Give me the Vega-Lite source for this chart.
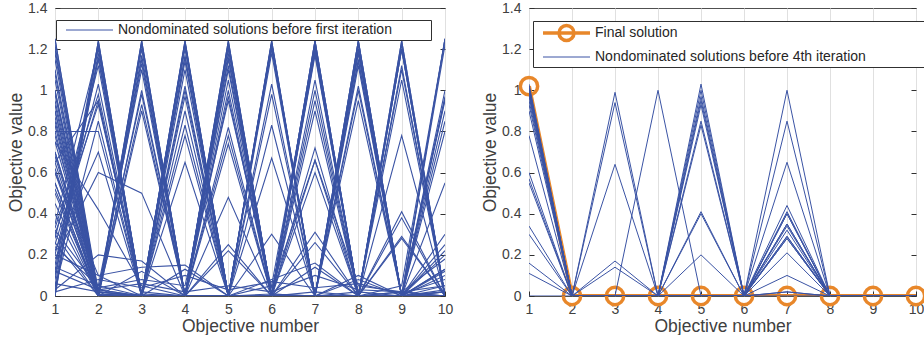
{
"$schema": "https://vega.github.io/schema/vega-lite/v6.json",
"padding": {"left": 7, "top": 0, "right": 0, "bottom": 0},
"config": {
  "font": "Liberation Sans",
  "view": {"stroke": "#505050", "strokeWidth": 1},
  "axis": {"labelFont": "Liberation Sans", "labelFontSize": 14, "labelColor": "#404040", "titleFont": "Liberation Sans", "titleFontSize": 17.5, "titleFontWeight": "normal", "titleColor": "#404040", "tickColor": "#303030", "domain": false},
  "legend": {"labelFont": "Liberation Sans", "labelFontSize": 14, "labelColor": "#262626", "labelLimit": 1000, "fillColor": "white", "strokeColor": "#303030", "padding": 3, "symbolType": "stroke", "symbolSize": 2209, "symbolStrokeWidth": 1, "symbolOffset": 6.5, "labelOffset": 4.5, "rowPadding": 0}
},
"datasets": {
"L": [
{"s":1,"o":1,"v":1.25},{"s":1,"o":2,"v":0.02},{"s":1,"o":3,"v":0},{"s":1,"o":4,"v":1.24},{"s":1,"o":5,"v":0},{"s":1,"o":6,"v":0.01},{"s":1,"o":7,"v":0},{"s":1,"o":8,"v":1.2},{"s":1,"o":9,"v":0},{"s":1,"o":10,"v":0.03},
{"s":2,"o":1,"v":1.2},{"s":2,"o":2,"v":0},{"s":2,"o":3,"v":1.23},{"s":2,"o":4,"v":0},{"s":2,"o":5,"v":0},{"s":2,"o":6,"v":1.24},{"s":2,"o":7,"v":0},{"s":2,"o":8,"v":0},{"s":2,"o":9,"v":0.02},{"s":2,"o":10,"v":0},
{"s":3,"o":1,"v":1.15},{"s":3,"o":2,"v":0},{"s":3,"o":3,"v":0.01},{"s":3,"o":4,"v":0},{"s":3,"o":5,"v":1.24},{"s":3,"o":6,"v":0},{"s":3,"o":7,"v":0.02},{"s":3,"o":8,"v":0},{"s":3,"o":9,"v":1.24},{"s":3,"o":10,"v":0},
{"s":4,"o":1,"v":1.1},{"s":4,"o":2,"v":0.01},{"s":4,"o":3,"v":0},{"s":4,"o":4,"v":0},{"s":4,"o":5,"v":0},{"s":4,"o":6,"v":0},{"s":4,"o":7,"v":1.24},{"s":4,"o":8,"v":0},{"s":4,"o":9,"v":0},{"s":4,"o":10,"v":1.25},
{"s":5,"o":1,"v":1.05},{"s":5,"o":2,"v":0},{"s":5,"o":3,"v":1.2},{"s":5,"o":4,"v":0},{"s":5,"o":5,"v":1.22},{"s":5,"o":6,"v":0},{"s":5,"o":7,"v":0},{"s":5,"o":8,"v":0.02},{"s":5,"o":9,"v":0},{"s":5,"o":10,"v":0},
{"s":6,"o":1,"v":1},{"s":6,"o":2,"v":0.03},{"s":6,"o":3,"v":0},{"s":6,"o":4,"v":1.22},{"s":6,"o":5,"v":0},{"s":6,"o":6,"v":0},{"s":6,"o":7,"v":1.22},{"s":6,"o":8,"v":0},{"s":6,"o":9,"v":0},{"s":6,"o":10,"v":0.02},
{"s":7,"o":1,"v":0.98},{"s":7,"o":2,"v":0},{"s":7,"o":3,"v":0},{"s":7,"o":4,"v":0},{"s":7,"o":5,"v":1.18},{"s":7,"o":6,"v":0},{"s":7,"o":7,"v":0},{"s":7,"o":8,"v":1.24},{"s":7,"o":9,"v":0},{"s":7,"o":10,"v":0},
{"s":8,"o":1,"v":0.95},{"s":8,"o":2,"v":0.02},{"s":8,"o":3,"v":1.15},{"s":8,"o":4,"v":0},{"s":8,"o":5,"v":0},{"s":8,"o":6,"v":1.21},{"s":8,"o":7,"v":0},{"s":8,"o":8,"v":0},{"s":8,"o":9,"v":1.2},{"s":8,"o":10,"v":0},
{"s":9,"o":1,"v":0.9},{"s":9,"o":2,"v":0},{"s":9,"o":3,"v":0},{"s":9,"o":4,"v":1.14},{"s":9,"o":5,"v":0},{"s":9,"o":6,"v":0},{"s":9,"o":7,"v":1.19},{"s":9,"o":8,"v":0},{"s":9,"o":9,"v":0},{"s":9,"o":10,"v":1},
{"s":10,"o":1,"v":0.87},{"s":10,"o":2,"v":0},{"s":10,"o":3,"v":0},{"s":10,"o":4,"v":0},{"s":10,"o":5,"v":1.15},{"s":10,"o":6,"v":0.01},{"s":10,"o":7,"v":0},{"s":10,"o":8,"v":1.2},{"s":10,"o":9,"v":0},{"s":10,"o":10,"v":0},
{"s":11,"o":1,"v":0.85},{"s":11,"o":2,"v":0.01},{"s":11,"o":3,"v":1.13},{"s":11,"o":4,"v":0},{"s":11,"o":5,"v":0},{"s":11,"o":6,"v":0},{"s":11,"o":7,"v":1.17},{"s":11,"o":8,"v":0},{"s":11,"o":9,"v":0.02},{"s":11,"o":10,"v":0},
{"s":12,"o":1,"v":0.8},{"s":12,"o":2,"v":0},{"s":12,"o":3,"v":0},{"s":12,"o":4,"v":1.1},{"s":12,"o":5,"v":0},{"s":12,"o":6,"v":1.03},{"s":12,"o":7,"v":0},{"s":12,"o":8,"v":0},{"s":12,"o":9,"v":1.12},{"s":12,"o":10,"v":0},
{"s":13,"o":1,"v":0.75},{"s":13,"o":2,"v":0.02},{"s":13,"o":3,"v":0},{"s":13,"o":4,"v":0},{"s":13,"o":5,"v":1.12},{"s":13,"o":6,"v":0},{"s":13,"o":7,"v":0},{"s":13,"o":8,"v":1.15},{"s":13,"o":9,"v":0},{"s":13,"o":10,"v":0.95},
{"s":14,"o":1,"v":0.7},{"s":14,"o":2,"v":0},{"s":14,"o":3,"v":1},{"s":14,"o":4,"v":0},{"s":14,"o":5,"v":0},{"s":14,"o":6,"v":0.98},{"s":14,"o":7,"v":0},{"s":14,"o":8,"v":0},{"s":14,"o":9,"v":0},{"s":14,"o":10,"v":0.9},
{"s":15,"o":1,"v":0.65},{"s":15,"o":2,"v":0},{"s":15,"o":3,"v":0},{"s":15,"o":4,"v":1},{"s":15,"o":5,"v":0},{"s":15,"o":6,"v":0},{"s":15,"o":7,"v":1.05},{"s":15,"o":8,"v":0},{"s":15,"o":9,"v":1.05},{"s":15,"o":10,"v":0},
{"s":16,"o":1,"v":0.6},{"s":16,"o":2,"v":0.01},{"s":16,"o":3,"v":0},{"s":16,"o":4,"v":0},{"s":16,"o":5,"v":1},{"s":16,"o":6,"v":0},{"s":16,"o":7,"v":0},{"s":16,"o":8,"v":1.12},{"s":16,"o":9,"v":0},{"s":16,"o":10,"v":0},
{"s":17,"o":1,"v":0.55},{"s":17,"o":2,"v":0},{"s":17,"o":3,"v":0.93},{"s":17,"o":4,"v":0},{"s":17,"o":5,"v":0},{"s":17,"o":6,"v":0.83},{"s":17,"o":7,"v":0},{"s":17,"o":8,"v":0},{"s":17,"o":9,"v":0},{"s":17,"o":10,"v":0.8},
{"s":18,"o":1,"v":0.5},{"s":18,"o":2,"v":0},{"s":18,"o":3,"v":0},{"s":18,"o":4,"v":0.97},{"s":18,"o":5,"v":0},{"s":18,"o":6,"v":0},{"s":18,"o":7,"v":1},{"s":18,"o":8,"v":0},{"s":18,"o":9,"v":0.78},{"s":18,"o":10,"v":0},
{"s":19,"o":1,"v":0.45},{"s":19,"o":2,"v":0},{"s":19,"o":3,"v":0.9},{"s":19,"o":4,"v":0},{"s":19,"o":5,"v":0.97},{"s":19,"o":6,"v":0},{"s":19,"o":7,"v":0},{"s":19,"o":8,"v":1.02},{"s":19,"o":9,"v":0},{"s":19,"o":10,"v":0},
{"s":20,"o":1,"v":0.4},{"s":20,"o":2,"v":0},{"s":20,"o":3,"v":0},{"s":20,"o":4,"v":0.83},{"s":20,"o":5,"v":0},{"s":20,"o":6,"v":0},{"s":20,"o":7,"v":0.95},{"s":20,"o":8,"v":0},{"s":20,"o":9,"v":0},{"s":20,"o":10,"v":0.55},
{"s":21,"o":1,"v":0},{"s":21,"o":2,"v":1.24},{"s":21,"o":3,"v":0},{"s":21,"o":4,"v":1.24},{"s":21,"o":5,"v":0},{"s":21,"o":6,"v":0},{"s":21,"o":7,"v":0.9},{"s":21,"o":8,"v":0},{"s":21,"o":9,"v":0},{"s":21,"o":10,"v":0.25},
{"s":22,"o":1,"v":0.02},{"s":22,"o":2,"v":1.22},{"s":22,"o":3,"v":0},{"s":22,"o":4,"v":0},{"s":22,"o":5,"v":1.24},{"s":22,"o":6,"v":0},{"s":22,"o":7,"v":0},{"s":22,"o":8,"v":1},{"s":22,"o":9,"v":0},{"s":22,"o":10,"v":0},
{"s":23,"o":1,"v":0.05},{"s":23,"o":2,"v":1.18},{"s":23,"o":3,"v":0},{"s":23,"o":4,"v":0},{"s":23,"o":5,"v":0},{"s":23,"o":6,"v":1.24},{"s":23,"o":7,"v":0},{"s":23,"o":8,"v":0},{"s":23,"o":9,"v":0.41},{"s":23,"o":10,"v":0},
{"s":24,"o":1,"v":0.1},{"s":24,"o":2,"v":1.15},{"s":24,"o":3,"v":0},{"s":24,"o":4,"v":0},{"s":24,"o":5,"v":0.82},{"s":24,"o":6,"v":0},{"s":24,"o":7,"v":0},{"s":24,"o":8,"v":0},{"s":24,"o":9,"v":0},{"s":24,"o":10,"v":1.25},
{"s":25,"o":1,"v":0.2},{"s":25,"o":2,"v":1.03},{"s":25,"o":3,"v":0},{"s":25,"o":4,"v":0},{"s":25,"o":5,"v":0},{"s":25,"o":6,"v":0.67},{"s":25,"o":7,"v":0},{"s":25,"o":8,"v":0},{"s":25,"o":9,"v":0.38},{"s":25,"o":10,"v":0},
{"s":26,"o":1,"v":0.25},{"s":26,"o":2,"v":0.95},{"s":26,"o":3,"v":0},{"s":26,"o":4,"v":0.78},{"s":26,"o":5,"v":0},{"s":26,"o":6,"v":0},{"s":26,"o":7,"v":0.72},{"s":26,"o":8,"v":0},{"s":26,"o":9,"v":0},{"s":26,"o":10,"v":0.22},
{"s":27,"o":1,"v":0.3},{"s":27,"o":2,"v":0.93},{"s":27,"o":3,"v":0.02},{"s":27,"o":4,"v":0},{"s":27,"o":5,"v":0.78},{"s":27,"o":6,"v":0},{"s":27,"o":7,"v":0},{"s":27,"o":8,"v":0},{"s":27,"o":9,"v":0.29},{"s":27,"o":10,"v":0},
{"s":28,"o":1,"v":0.8},{"s":28,"o":2,"v":0.8},{"s":28,"o":3,"v":0},{"s":28,"o":4,"v":0},{"s":28,"o":5,"v":0},{"s":28,"o":6,"v":0},{"s":28,"o":7,"v":0.66},{"s":28,"o":8,"v":0},{"s":28,"o":9,"v":0},{"s":28,"o":10,"v":0.2},
{"s":29,"o":1,"v":0.65},{"s":29,"o":2,"v":0.95},{"s":29,"o":3,"v":0},{"s":29,"o":4,"v":0.65},{"s":29,"o":5,"v":0},{"s":29,"o":6,"v":0},{"s":29,"o":7,"v":0},{"s":29,"o":8,"v":0},{"s":29,"o":9,"v":0.28},{"s":29,"o":10,"v":0},
{"s":30,"o":1,"v":0.22},{"s":30,"o":2,"v":0.7},{"s":30,"o":3,"v":0},{"s":30,"o":4,"v":0},{"s":30,"o":5,"v":0.74},{"s":30,"o":6,"v":0},{"s":30,"o":7,"v":0.6},{"s":30,"o":8,"v":0},{"s":30,"o":9,"v":0},{"s":30,"o":10,"v":0.13},
{"s":31,"o":1,"v":0.18},{"s":31,"o":2,"v":0.6},{"s":31,"o":3,"v":0.5},{"s":31,"o":4,"v":0},{"s":31,"o":5,"v":0},{"s":31,"o":6,"v":0.3},{"s":31,"o":7,"v":0},{"s":31,"o":8,"v":0},{"s":31,"o":9,"v":0},{"s":31,"o":10,"v":0.12},
{"s":32,"o":1,"v":0.75},{"s":32,"o":2,"v":0.42},{"s":32,"o":3,"v":0.05},{"s":32,"o":4,"v":0},{"s":32,"o":5,"v":0.48},{"s":32,"o":6,"v":0},{"s":32,"o":7,"v":0.31},{"s":32,"o":8,"v":0},{"s":32,"o":9,"v":0},{"s":32,"o":10,"v":0},
{"s":33,"o":1,"v":0.03},{"s":33,"o":2,"v":0.2},{"s":33,"o":3,"v":0.17},{"s":33,"o":4,"v":0},{"s":33,"o":5,"v":0},{"s":33,"o":6,"v":0},{"s":33,"o":7,"v":0},{"s":33,"o":8,"v":0.1},{"s":33,"o":9,"v":0},{"s":33,"o":10,"v":0},
{"s":34,"o":1,"v":0.6},{"s":34,"o":2,"v":0.1},{"s":34,"o":3,"v":0.14},{"s":34,"o":4,"v":0.15},{"s":34,"o":5,"v":0},{"s":34,"o":6,"v":0},{"s":34,"o":7,"v":0.26},{"s":34,"o":8,"v":0},{"s":34,"o":9,"v":0},{"s":34,"o":10,"v":0.02},
{"s":35,"o":1,"v":0.26},{"s":35,"o":2,"v":0},{"s":35,"o":3,"v":0.12},{"s":35,"o":4,"v":0},{"s":35,"o":5,"v":0.25},{"s":35,"o":6,"v":0},{"s":35,"o":7,"v":0},{"s":35,"o":8,"v":0.08},{"s":35,"o":9,"v":0},{"s":35,"o":10,"v":0.13},
{"s":36,"o":1,"v":0.24},{"s":36,"o":2,"v":0.05},{"s":36,"o":3,"v":0},{"s":36,"o":4,"v":0.13},{"s":36,"o":5,"v":0},{"s":36,"o":6,"v":0.08},{"s":36,"o":7,"v":0.16},{"s":36,"o":8,"v":0},{"s":36,"o":9,"v":0},{"s":36,"o":10,"v":0},
{"s":37,"o":1,"v":0.3},{"s":37,"o":2,"v":0},{"s":37,"o":3,"v":0},{"s":37,"o":4,"v":0},{"s":37,"o":5,"v":0.22},{"s":37,"o":6,"v":0},{"s":37,"o":7,"v":0.14},{"s":37,"o":8,"v":0},{"s":37,"o":9,"v":0},{"s":37,"o":10,"v":0.05},
{"s":38,"o":1,"v":1.25},{"s":38,"o":2,"v":0},{"s":38,"o":3,"v":0},{"s":38,"o":4,"v":0},{"s":38,"o":5,"v":0},{"s":38,"o":6,"v":0},{"s":38,"o":7,"v":0},{"s":38,"o":8,"v":0},{"s":38,"o":9,"v":0},{"s":38,"o":10,"v":0.1},
{"s":39,"o":1,"v":1},{"s":39,"o":2,"v":0},{"s":39,"o":3,"v":0},{"s":39,"o":4,"v":0},{"s":39,"o":5,"v":0},{"s":39,"o":6,"v":0},{"s":39,"o":7,"v":0},{"s":39,"o":8,"v":0},{"s":39,"o":9,"v":0},{"s":39,"o":10,"v":0},
{"s":40,"o":1,"v":0},{"s":40,"o":2,"v":1.24},{"s":40,"o":3,"v":0},{"s":40,"o":4,"v":0},{"s":40,"o":5,"v":0},{"s":40,"o":6,"v":0},{"s":40,"o":7,"v":0},{"s":40,"o":8,"v":0},{"s":40,"o":9,"v":0},{"s":40,"o":10,"v":0},
{"s":41,"o":1,"v":0.7},{"s":41,"o":2,"v":0.02},{"s":41,"o":3,"v":0},{"s":41,"o":4,"v":0},{"s":41,"o":5,"v":0},{"s":41,"o":6,"v":0},{"s":41,"o":7,"v":0},{"s":41,"o":8,"v":1.24},{"s":41,"o":9,"v":0},{"s":41,"o":10,"v":1.22},
{"s":42,"o":1,"v":0.9},{"s":42,"o":2,"v":0},{"s":42,"o":3,"v":0},{"s":42,"o":4,"v":0},{"s":42,"o":5,"v":0},{"s":42,"o":6,"v":1.22},{"s":42,"o":7,"v":0},{"s":42,"o":8,"v":0},{"s":42,"o":9,"v":1.24},{"s":42,"o":10,"v":0},
{"s":43,"o":1,"v":0.55},{"s":43,"o":2,"v":0},{"s":43,"o":3,"v":1.24},{"s":43,"o":4,"v":0},{"s":43,"o":5,"v":0},{"s":43,"o":6,"v":0},{"s":43,"o":7,"v":1.24},{"s":43,"o":8,"v":0},{"s":43,"o":9,"v":0},{"s":43,"o":10,"v":0.96},
{"s":44,"o":1,"v":0.35},{"s":44,"o":2,"v":1.2},{"s":44,"o":3,"v":0},{"s":44,"o":4,"v":1.2},{"s":44,"o":5,"v":0},{"s":44,"o":6,"v":0},{"s":44,"o":7,"v":0},{"s":44,"o":8,"v":1.24},{"s":44,"o":9,"v":0},{"s":44,"o":10,"v":0},
{"s":45,"o":1,"v":0.15},{"s":45,"o":2,"v":1.16},{"s":45,"o":3,"v":0},{"s":45,"o":4,"v":0},{"s":45,"o":5,"v":1.2},{"s":45,"o":6,"v":0},{"s":45,"o":7,"v":1.24},{"s":45,"o":8,"v":0},{"s":45,"o":9,"v":0},{"s":45,"o":10,"v":0},
{"s":46,"o":1,"v":1.22},{"s":46,"o":2,"v":0},{"s":46,"o":3,"v":0},{"s":46,"o":4,"v":1.23},{"s":46,"o":5,"v":0},{"s":46,"o":6,"v":0},{"s":46,"o":7,"v":0},{"s":46,"o":8,"v":0},{"s":46,"o":9,"v":1.22},{"s":46,"o":10,"v":0},
{"s":47,"o":1,"v":1.18},{"s":47,"o":2,"v":0.01},{"s":47,"o":3,"v":1.24},{"s":47,"o":4,"v":0},{"s":47,"o":5,"v":0},{"s":47,"o":6,"v":0},{"s":47,"o":7,"v":1.2},{"s":47,"o":8,"v":0},{"s":47,"o":9,"v":0},{"s":47,"o":10,"v":0.02},
{"s":48,"o":1,"v":1.08},{"s":48,"o":2,"v":0},{"s":48,"o":3,"v":0},{"s":48,"o":4,"v":0},{"s":48,"o":5,"v":1.23},{"s":48,"o":6,"v":0},{"s":48,"o":7,"v":0},{"s":48,"o":8,"v":0},{"s":48,"o":9,"v":0},{"s":48,"o":10,"v":0.97},
{"s":49,"o":1,"v":0.93},{"s":49,"o":2,"v":0},{"s":49,"o":3,"v":1.22},{"s":49,"o":4,"v":0},{"s":49,"o":5,"v":0},{"s":49,"o":6,"v":1.23},{"s":49,"o":7,"v":0},{"s":49,"o":8,"v":0},{"s":49,"o":9,"v":0},{"s":49,"o":10,"v":0},
{"s":50,"o":1,"v":0.83},{"s":50,"o":2,"v":0},{"s":50,"o":3,"v":0},{"s":50,"o":4,"v":1.23},{"s":50,"o":5,"v":0},{"s":50,"o":6,"v":0},{"s":50,"o":7,"v":0},{"s":50,"o":8,"v":1.22},{"s":50,"o":9,"v":0},{"s":50,"o":10,"v":0},
{"s":51,"o":1,"v":0.78},{"s":51,"o":2,"v":0.03},{"s":51,"o":3,"v":0},{"s":51,"o":4,"v":0},{"s":51,"o":5,"v":0},{"s":51,"o":6,"v":1.2},{"s":51,"o":7,"v":0},{"s":51,"o":8,"v":0},{"s":51,"o":9,"v":1.2},{"s":51,"o":10,"v":0},
{"s":52,"o":1,"v":0.68},{"s":52,"o":2,"v":0},{"s":52,"o":3,"v":1.17},{"s":52,"o":4,"v":0},{"s":52,"o":5,"v":0},{"s":52,"o":6,"v":0},{"s":52,"o":7,"v":1.2},{"s":52,"o":8,"v":0},{"s":52,"o":9,"v":0},{"s":52,"o":10,"v":0.85},
{"s":53,"o":1,"v":0.62},{"s":53,"o":2,"v":0},{"s":53,"o":3,"v":0},{"s":53,"o":4,"v":0},{"s":53,"o":5,"v":1.16},{"s":53,"o":6,"v":0},{"s":53,"o":7,"v":0},{"s":53,"o":8,"v":1.18},{"s":53,"o":9,"v":0},{"s":53,"o":10,"v":0},
{"s":54,"o":1,"v":0.52},{"s":54,"o":2,"v":0},{"s":54,"o":3,"v":0},{"s":54,"o":4,"v":1.17},{"s":54,"o":5,"v":0},{"s":54,"o":6,"v":0},{"s":54,"o":7,"v":1.22},{"s":54,"o":8,"v":0},{"s":54,"o":9,"v":0},{"s":54,"o":10,"v":0},
{"s":55,"o":1,"v":0.12},{"s":55,"o":2,"v":1.23},{"s":55,"o":3,"v":0},{"s":55,"o":4,"v":0},{"s":55,"o":5,"v":1.22},{"s":55,"o":6,"v":0},{"s":55,"o":7,"v":0},{"s":55,"o":8,"v":0},{"s":55,"o":9,"v":1.2},{"s":55,"o":10,"v":0},
{"s":56,"o":1,"v":0.08},{"s":56,"o":2,"v":1.21},{"s":56,"o":3,"v":0},{"s":56,"o":4,"v":1.16},{"s":56,"o":5,"v":0},{"s":56,"o":6,"v":0},{"s":56,"o":7,"v":1.18},{"s":56,"o":8,"v":0},{"s":56,"o":9,"v":0},{"s":56,"o":10,"v":0},
{"s":57,"o":1,"v":0.28},{"s":57,"o":2,"v":1.12},{"s":57,"o":3,"v":0},{"s":57,"o":4,"v":0},{"s":57,"o":5,"v":0},{"s":57,"o":6,"v":1.23},{"s":57,"o":7,"v":0},{"s":57,"o":8,"v":1.14},{"s":57,"o":9,"v":0},{"s":57,"o":10,"v":0},
{"s":58,"o":1,"v":0.33},{"s":58,"o":2,"v":0.98},{"s":58,"o":3,"v":0},{"s":58,"o":4,"v":0},{"s":58,"o":5,"v":1.1},{"s":58,"o":6,"v":0},{"s":58,"o":7,"v":0},{"s":58,"o":8,"v":0},{"s":58,"o":9,"v":1.1},{"s":58,"o":10,"v":0},
{"s":59,"o":1,"v":0.04},{"s":59,"o":2,"v":0.85},{"s":59,"o":3,"v":0},{"s":59,"o":4,"v":1.02},{"s":59,"o":5,"v":0},{"s":59,"o":6,"v":0},{"s":59,"o":7,"v":0},{"s":59,"o":8,"v":1.18},{"s":59,"o":9,"v":0},{"s":59,"o":10,"v":0},
{"s":60,"o":1,"v":0.14},{"s":60,"o":2,"v":0.05},{"s":60,"o":3,"v":1.1},{"s":60,"o":4,"v":0},{"s":60,"o":5,"v":0},{"s":60,"o":6,"v":0.05},{"s":60,"o":7,"v":1.21},{"s":60,"o":8,"v":0},{"s":60,"o":9,"v":0},{"s":60,"o":10,"v":0.3},
{"s":61,"o":1,"v":0.06},{"s":61,"o":2,"v":0.02},{"s":61,"o":3,"v":0.98},{"s":61,"o":4,"v":0},{"s":61,"o":5,"v":1.05},{"s":61,"o":6,"v":0},{"s":61,"o":7,"v":0},{"s":61,"o":8,"v":0.95},{"s":61,"o":9,"v":0},{"s":61,"o":10,"v":0},
{"s":62,"o":1,"v":0.2},{"s":62,"o":2,"v":0.1},{"s":62,"o":3,"v":0},{"s":62,"o":4,"v":0.9},{"s":62,"o":5,"v":0},{"s":62,"o":6,"v":1.18},{"s":62,"o":7,"v":0},{"s":62,"o":8,"v":0},{"s":62,"o":9,"v":0.05},{"s":62,"o":10,"v":1.25},
{"s":63,"o":1,"v":0.32},{"s":63,"o":2,"v":0.04},{"s":63,"o":3,"v":0.08},{"s":63,"o":4,"v":0.05},{"s":63,"o":5,"v":0.95},{"s":63,"o":6,"v":0.04},{"s":63,"o":7,"v":0.66},{"s":63,"o":8,"v":0.05},{"s":63,"o":9,"v":0.02},{"s":63,"o":10,"v":0.18},
{"s":64,"o":1,"v":0.02},{"s":64,"o":2,"v":0.08},{"s":64,"o":3,"v":0.04},{"s":64,"o":4,"v":0.1},{"s":64,"o":5,"v":0.03},{"s":64,"o":6,"v":0.07},{"s":64,"o":7,"v":0.04},{"s":64,"o":8,"v":0.06},{"s":64,"o":9,"v":0.01},{"s":64,"o":10,"v":0.08},
{"s":65,"o":1,"v":0.12},{"s":65,"o":2,"v":0.03},{"s":65,"o":3,"v":0.06},{"s":65,"o":4,"v":0.02},{"s":65,"o":5,"v":0.05},{"s":65,"o":6,"v":0.02},{"s":65,"o":7,"v":0.1},{"s":65,"o":8,"v":0.03},{"s":65,"o":9,"v":0.02},{"s":65,"o":10,"v":0.05}
],
"R": [
{"s":1,"o":1,"v":1.03},{"s":1,"o":2,"v":0},{"s":1,"o":3,"v":0},{"s":1,"o":4,"v":0},{"s":1,"o":5,"v":1.03},{"s":1,"o":6,"v":0},{"s":1,"o":7,"v":0},{"s":1,"o":8,"v":0},{"s":1,"o":9,"v":0},{"s":1,"o":10,"v":0},
{"s":2,"o":1,"v":1.02},{"s":2,"o":2,"v":0},{"s":2,"o":3,"v":0},{"s":2,"o":4,"v":0},{"s":2,"o":5,"v":0},{"s":2,"o":6,"v":0},{"s":2,"o":7,"v":1},{"s":2,"o":8,"v":0},{"s":2,"o":9,"v":0},{"s":2,"o":10,"v":0},
{"s":3,"o":1,"v":1.01},{"s":3,"o":2,"v":0},{"s":3,"o":3,"v":0.99},{"s":3,"o":4,"v":0},{"s":3,"o":5,"v":0},{"s":3,"o":6,"v":0},{"s":3,"o":7,"v":0.4},{"s":3,"o":8,"v":0},{"s":3,"o":9,"v":0},{"s":3,"o":10,"v":0},
{"s":4,"o":1,"v":1},{"s":4,"o":2,"v":0},{"s":4,"o":3,"v":0},{"s":4,"o":4,"v":0},{"s":4,"o":5,"v":0.97},{"s":4,"o":6,"v":0},{"s":4,"o":7,"v":0.35},{"s":4,"o":8,"v":0},{"s":4,"o":9,"v":0},{"s":4,"o":10,"v":0},
{"s":5,"o":1,"v":1},{"s":5,"o":2,"v":0},{"s":5,"o":3,"v":0},{"s":5,"o":4,"v":0},{"s":5,"o":5,"v":1},{"s":5,"o":6,"v":0},{"s":5,"o":7,"v":0.29},{"s":5,"o":8,"v":0},{"s":5,"o":9,"v":0},{"s":5,"o":10,"v":0},
{"s":6,"o":1,"v":0.99},{"s":6,"o":2,"v":0},{"s":6,"o":3,"v":0.94},{"s":6,"o":4,"v":0},{"s":6,"o":5,"v":0},{"s":6,"o":6,"v":0},{"s":6,"o":7,"v":0.41},{"s":6,"o":8,"v":0},{"s":6,"o":9,"v":0},{"s":6,"o":10,"v":0},
{"s":7,"o":1,"v":0.98},{"s":7,"o":2,"v":0},{"s":7,"o":3,"v":0},{"s":7,"o":4,"v":0},{"s":7,"o":5,"v":0.95},{"s":7,"o":6,"v":0},{"s":7,"o":7,"v":0.34},{"s":7,"o":8,"v":0},{"s":7,"o":9,"v":0},{"s":7,"o":10,"v":0},
{"s":8,"o":1,"v":0.97},{"s":8,"o":2,"v":0},{"s":8,"o":3,"v":0},{"s":8,"o":4,"v":0},{"s":8,"o":5,"v":0.85},{"s":8,"o":6,"v":0},{"s":8,"o":7,"v":0.28},{"s":8,"o":8,"v":0},{"s":8,"o":9,"v":0},{"s":8,"o":10,"v":0},
{"s":9,"o":1,"v":0.95},{"s":9,"o":2,"v":0},{"s":9,"o":3,"v":0},{"s":9,"o":4,"v":0},{"s":9,"o":5,"v":0.83},{"s":9,"o":6,"v":0},{"s":9,"o":7,"v":0.32},{"s":9,"o":8,"v":0},{"s":9,"o":9,"v":0},{"s":9,"o":10,"v":0},
{"s":10,"o":1,"v":0.93},{"s":10,"o":2,"v":0},{"s":10,"o":3,"v":0},{"s":10,"o":4,"v":0},{"s":10,"o":5,"v":0.93},{"s":10,"o":6,"v":0},{"s":10,"o":7,"v":0.44},{"s":10,"o":8,"v":0},{"s":10,"o":9,"v":0},{"s":10,"o":10,"v":0},
{"s":11,"o":1,"v":0.9},{"s":11,"o":2,"v":0},{"s":11,"o":3,"v":0.64},{"s":11,"o":4,"v":0},{"s":11,"o":5,"v":0},{"s":11,"o":6,"v":0},{"s":11,"o":7,"v":0.85},{"s":11,"o":8,"v":0},{"s":11,"o":9,"v":0},{"s":11,"o":10,"v":0},
{"s":12,"o":1,"v":0.78},{"s":12,"o":2,"v":0},{"s":12,"o":3,"v":0},{"s":12,"o":4,"v":0},{"s":12,"o":5,"v":0.41},{"s":12,"o":6,"v":0},{"s":12,"o":7,"v":0.65},{"s":12,"o":8,"v":0},{"s":12,"o":9,"v":0},{"s":12,"o":10,"v":0},
{"s":13,"o":1,"v":0.6},{"s":13,"o":2,"v":0},{"s":13,"o":3,"v":0},{"s":13,"o":4,"v":1},{"s":13,"o":5,"v":0},{"s":13,"o":6,"v":0},{"s":13,"o":7,"v":0.21},{"s":13,"o":8,"v":0},{"s":13,"o":9,"v":0},{"s":13,"o":10,"v":0},
{"s":14,"o":1,"v":0.57},{"s":14,"o":2,"v":0},{"s":14,"o":3,"v":0},{"s":14,"o":4,"v":0},{"s":14,"o":5,"v":0.4},{"s":14,"o":6,"v":0},{"s":14,"o":7,"v":0.1},{"s":14,"o":8,"v":0},{"s":14,"o":9,"v":0},{"s":14,"o":10,"v":0},
{"s":15,"o":1,"v":0.55},{"s":15,"o":2,"v":0},{"s":15,"o":3,"v":0.17},{"s":15,"o":4,"v":0},{"s":15,"o":5,"v":0},{"s":15,"o":6,"v":0},{"s":15,"o":7,"v":0.35},{"s":15,"o":8,"v":0},{"s":15,"o":9,"v":0},{"s":15,"o":10,"v":0},
{"s":16,"o":1,"v":0.34},{"s":16,"o":2,"v":0},{"s":16,"o":3,"v":0.14},{"s":16,"o":4,"v":0},{"s":16,"o":5,"v":0},{"s":16,"o":6,"v":0},{"s":16,"o":7,"v":0.29},{"s":16,"o":8,"v":0},{"s":16,"o":9,"v":0},{"s":16,"o":10,"v":0},
{"s":17,"o":1,"v":0.3},{"s":17,"o":2,"v":0},{"s":17,"o":3,"v":0},{"s":17,"o":4,"v":0},{"s":17,"o":5,"v":0.2},{"s":17,"o":6,"v":0},{"s":17,"o":7,"v":0.02},{"s":17,"o":8,"v":0},{"s":17,"o":9,"v":0},{"s":17,"o":10,"v":0},
{"s":18,"o":1,"v":0.16},{"s":18,"o":2,"v":0},{"s":18,"o":3,"v":0},{"s":18,"o":4,"v":0},{"s":18,"o":5,"v":0},{"s":18,"o":6,"v":0},{"s":18,"o":7,"v":0.28},{"s":18,"o":8,"v":0},{"s":18,"o":9,"v":0},{"s":18,"o":10,"v":0},
{"s":19,"o":1,"v":0.11},{"s":19,"o":2,"v":0},{"s":19,"o":3,"v":0},{"s":19,"o":4,"v":0},{"s":19,"o":5,"v":0},{"s":19,"o":6,"v":0},{"s":19,"o":7,"v":0.4},{"s":19,"o":8,"v":0},{"s":19,"o":9,"v":0},{"s":19,"o":10,"v":0},
{"s":20,"o":1,"v":0},{"s":20,"o":2,"v":0},{"s":20,"o":3,"v":0},{"s":20,"o":4,"v":0},{"s":20,"o":5,"v":0},{"s":20,"o":6,"v":0},{"s":20,"o":7,"v":0.02},{"s":20,"o":8,"v":0},{"s":20,"o":9,"v":0},{"s":20,"o":10,"v":0}
],
"F": [
{"s":"F","o":1,"v":1.02},{"s":"F","o":2,"v":0},{"s":"F","o":3,"v":0},{"s":"F","o":4,"v":0},{"s":"F","o":5,"v":0},{"s":"F","o":6,"v":0},{"s":"F","o":7,"v":0},{"s":"F","o":8,"v":0},{"s":"F","o":9,"v":0},{"s":"F","o":10,"v":0}
]
},
"hconcat": [
{
  "width": 390, "height": 288,
  "data": {"name": "L"},
  "layer": [
    {
      "mark": {"type": "line", "strokeWidth": 1.1, "clip": true},
      "encoding": {
        "x": {"field": "o", "type": "quantitative", "scale": {"domain": [1, 10], "nice": false, "zero": false},
              "axis": {"values": [1,2,3,4,5,6,7,8,9,10], "format": "d", "grid": true, "gridColor": "#e0e0e0", "title": "Objective number", "tickSize": -5, "labelPadding": 11, "labelFlush": false, "titlePadding": 1}},
        "y": {"field": "v", "type": "quantitative", "scale": {"domain": [0, 1.4], "nice": false},
              "axis": {"values": [0,0.2,0.4,0.6,0.8,1,1.2,1.4], "format": ".1~f", "grid": false, "title": "Objective value", "tickSize": -5, "labelPadding": 13, "labelFlush": false, "titlePadding": 2}},
        "detail": {"field": "s", "type": "nominal"},
        "color": {"datum": "Nondominated solutions before first iteration", "type": "nominal",
                  "scale": {"domain": ["Nondominated solutions before first iteration"], "range": ["#3a53a4"]},
                  "legend": {"title": null, "orient": "none", "legendX": 1, "legendY": 12,
                             "symbolSize": 2209, "symbolOffset": 6.5, "labelOffset": 4.5,
                             "encode": {
                               "symbols": {"update": {
                                 "y": {"value": 7},
                                 "shape": {"value": "M-1,0H1M14.3,0h0"},
                                 "fill": {"value": "transparent"}}},
                               "labels": {"update": {"y": {"value": 7}}}}}}
      }
    },
    {
      "mark": {"type": "rule", "opacity": 0},
      "encoding": {
        "y": {"datum": 0, "type": "quantitative",
              "axis": {"orient": "right", "values": [0,0.2,0.4,0.6,0.8,1,1.2,1.4], "labels": false, "grid": false, "title": null, "tickSize": -5}}
      }
    }
  ],
  "resolve": {"axis": {"y": "independent"}}
},
{
  "width": 387, "height": 288,
  "layer": [
    {
      "data": {"name": "F"},
      "mark": {"type": "line", "strokeWidth": 4, "clip": true},
      "encoding": {
        "x": {"field": "o", "type": "quantitative", "scale": {"domain": [1, 10], "nice": false, "zero": false},
              "axis": {"values": [1,2,3,4,5,6,7,8,9,10], "format": "d", "grid": true, "gridColor": "#e0e0e0", "title": "Objective number", "tickSize": -5, "labelPadding": 11, "labelFlush": false, "titlePadding": 1}},
        "y": {"field": "v", "type": "quantitative", "scale": {"domain": [0, 1.4], "nice": false},
              "axis": {"values": [0,0.2,0.4,0.6,0.8,1,1.2,1.4], "format": ".1~f", "grid": false, "title": "Objective value", "tickSize": -5, "labelPadding": 13, "labelFlush": false, "titlePadding": 2}},
        "detail": {"field": "s", "type": "nominal"},
        "color": {"datum": "Final solution", "type": "nominal",
                  "scale": {"domain": ["Final solution", "Nondominated solutions before 4th iteration"], "range": ["#e8872a", "#3a53a4"]},
                  "legend": {"title": null, "orient": "none", "legendX": 4, "legendY": 13, "rowPadding": -14,
                             "symbolSize": 2209, "symbolOffset": 6.5, "labelOffset": 4.5,
                             "encode": {
                               "symbols": {"update": {
                                 "y": {"value": 9},
                                 "size": {"signal": "(datum.value == 'Final solution' ? 1980 : 2209)"},
                                 "shape": {"signal": "(datum.value == 'Final solution' ? 'M-1.056,0H1.056M0.337,0A0.337,0.337,0,1,1,-0.337,0A0.337,0.337,0,1,1,0.337,0' : 'M-1,0H1M15.1,0h0')"},
                                 "strokeWidth": {"signal": "(datum.value == 'Final solution' ? 3.5 : 1)"},
                                 "fill": {"value": "transparent"}}},
                               "labels": {"update": {"y": {"value": 9}}}}}}
      }
    },
    {
      "data": {"name": "F"},
      "mark": {"type": "point", "filled": false, "size": 300, "strokeWidth": 3.5, "color": "#e8872a", "opacity": 1},
      "encoding": {
        "x": {"field": "o", "type": "quantitative"},
        "y": {"field": "v", "type": "quantitative", "axis": null}
      }
    },
    {
      "data": {"name": "R"},
      "mark": {"type": "line", "strokeWidth": 1, "clip": true},
      "encoding": {
        "x": {"field": "o", "type": "quantitative"},
        "y": {"field": "v", "type": "quantitative", "axis": null},
        "detail": {"field": "s", "type": "nominal"},
        "color": {"datum": "Nondominated solutions before 4th iteration", "type": "nominal"}
      }
    },
    {
      "data": {"name": "F"},
      "mark": {"type": "rule", "opacity": 0},
      "encoding": {
        "y": {"datum": 0, "type": "quantitative",
              "axis": {"orient": "right", "values": [0,0.2,0.4,0.6,0.8,1,1.2,1.4], "labels": false, "grid": false, "title": null, "tickSize": -5}}
      }
    }
  ],
  "resolve": {"axis": {"y": "independent"}}
}
],
"spacing": 27,
"resolve": {"scale": {"color": "independent"}}
}
